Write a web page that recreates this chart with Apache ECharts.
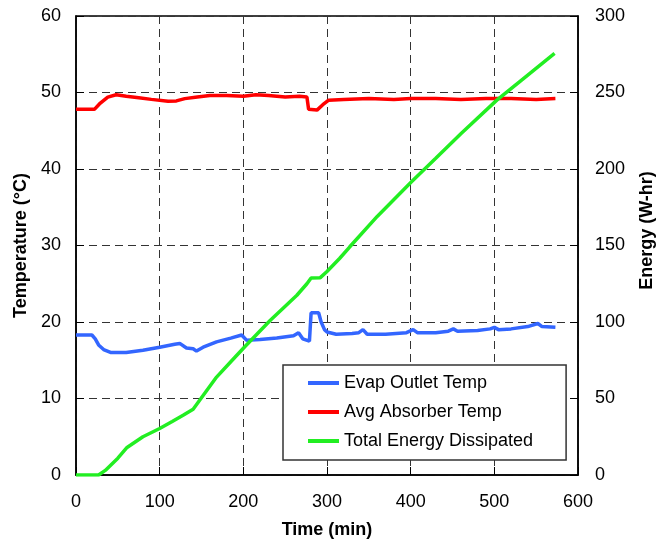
<!DOCTYPE html>
<html style="height: 100%">
<head>
  <meta charset="utf-8">
  <title>Temperature and Energy</title>
</head>
<body style="height: 100%; margin: 0">
<div id="container" style="width: 663px; height: 542px;"></div>
<script type="text/javascript" src="https://cdn.jsdelivr.net/npm/echarts@6/dist/echarts.min.js"></script>
<script type="text/javascript">
  // time (min) and values
  var evapTime = [0, 19, 23, 27, 33, 42, 60, 80, 100, 118, 124, 132, 140, 144, 152, 168, 185, 198, 204, 220, 240, 260, 266, 271, 279, 281, 290, 293, 297, 300, 311, 330, 338, 343, 348, 370, 395, 403, 408, 430, 445, 451, 456, 480, 495, 500, 505, 520, 540, 552, 557, 573];
  var evapTemp = [18.3, 18.3, 17.8, 17.0, 16.4, 16.0, 16.0, 16.3, 16.7, 17.1, 17.2, 16.6, 16.5, 16.2, 16.7, 17.4, 17.9, 18.3, 17.6, 17.7, 17.9, 18.2, 18.6, 17.8, 17.5, 21.2, 21.2, 20.0, 19.0, 18.7, 18.4, 18.5, 18.6, 19.0, 18.4, 18.4, 18.6, 19.0, 18.6, 18.6, 18.8, 19.1, 18.8, 18.9, 19.1, 19.3, 19.0, 19.1, 19.4, 19.8, 19.4, 19.3];

  var absTime = [0, 22, 28, 38, 48, 60, 75, 90, 110, 120, 130, 145, 160, 180, 200, 215, 230, 250, 267, 276, 278, 288, 295, 302, 320, 350, 380, 400, 430, 460, 490, 520, 550, 573];
  var absTemp = [47.8, 47.8, 48.5, 49.4, 49.7, 49.5, 49.3, 49.1, 48.85, 48.9, 49.2, 49.4, 49.6, 49.6, 49.5, 49.7, 49.6, 49.4, 49.5, 49.4, 47.8, 47.7, 48.4, 49.0, 49.1, 49.2, 49.1, 49.2, 49.2, 49.1, 49.2, 49.2, 49.1, 49.2];

  var energyTime = [0, 27, 35, 50, 61, 80, 100, 115, 128, 140, 148, 168, 185, 202, 232, 264, 276, 281, 292, 300, 315, 327, 360, 401, 430, 460, 503, 530, 572];
  var energyVal = [0, 0, 3, 11, 18, 25, 30.4, 35, 39, 43, 49, 64, 74, 84, 101, 117.5, 125, 128.8, 129, 133, 141.5, 149, 169, 191.6, 207, 223, 245, 257, 275.5];

  var seriesNames = ['Evap Outlet Temp', 'Avg Absorber Temp', 'Total Energy Dissipated'];

  function pairs(xs, ys) {
    var out = [];
    for (var i = 0; i < xs.length; i++) out.push([xs[i], ys[i]]);
    return out;
  }

  var font = 'Liberation Sans, Arial, sans-serif';
  var myChart = echarts.init(document.getElementById('container'));

  var option = {
    animation: false,
    textStyle: { fontFamily: font },
    grid: {
      left: 76, right: 85, top: 16, bottom: 67,
      outerBoundsMode: 'none',
      show: true, borderColor: '#000', borderWidth: 1.5
    },
    legend: {
      data: seriesNames,
      orient: 'vertical',
      left: 283, top: 365,
      padding: [9, 33, 10, 25],
      itemGap: 11,
      itemWidth: 31, itemHeight: 4,
      itemTextGap: 4,
      icon: 'rect',
      backgroundColor: '#fff',
      borderColor: '#333', borderWidth: 1.5,
      textStyle: { fontSize: 18, color: '#000', fontFamily: font }
    },
    xAxis: {
      type: 'value',
      min: 0, max: 600, interval: 100,
      name: 'Time (min)',
      nameLocation: 'middle',
      nameGap: 46,
      nameTextStyle: { fontSize: 18, fontWeight: 'bold', color: '#000' },
      axisLine: { lineStyle: { color: '#000', width: 1.5 } },
      axisTick: { inside: true, length: 8, lineStyle: { color: '#000' } },
      axisLabel: { fontSize: 18, color: '#000', margin: 18 },
      splitLine: { show: true, lineStyle: { color: '#333', type: [8, 5], width: 1 } }
    },
    yAxis: [
      {
        type: 'value',
        min: 0, max: 60, interval: 10,
        name: 'Temperature (°C)',
        nameLocation: 'middle',
        nameRotate: 90,
        nameGap: 45,
        nameTextStyle: { fontSize: 18, fontWeight: 'bold', color: '#000' },
        axisLine: { show: true, lineStyle: { color: '#000', width: 1.5 } },
        axisTick: { show: true, inside: true, length: 8, lineStyle: { color: '#000' } },
        axisLabel: { fontSize: 18, color: '#000', margin: 15 },
        splitLine: { show: true, lineStyle: { color: '#333', type: [8, 5], width: 1 } }
      },
      {
        type: 'value',
        min: 0, max: 300, interval: 50,
        name: 'Energy (W-hr)',
        nameLocation: 'middle',
        nameRotate: 90,
        nameGap: 60,
        nameTextStyle: { fontSize: 18, fontWeight: 'bold', color: '#000', padding: [0, 0, 0, 30] },
        axisLine: { show: true, lineStyle: { color: '#000', width: 1.5 } },
        axisTick: { show: true, inside: true, length: 8, lineStyle: { color: '#000' } },
        axisLabel: { fontSize: 18, color: '#000', margin: 17 },
        splitLine: { show: false }
      }
    ],
    series: [
      {
        name: seriesNames[0],
        type: 'line',
        yAxisIndex: 0,
        showSymbol: false,
        itemStyle: { color: '#3366ff' },
        lineStyle: { color: '#3366ff', width: 3.5 },
        data: pairs(evapTime, evapTemp)
      },
      {
        name: seriesNames[1],
        type: 'line',
        yAxisIndex: 0,
        showSymbol: false,
        itemStyle: { color: '#ff0000' },
        lineStyle: { color: '#ff0000', width: 3.5 },
        data: pairs(absTime, absTemp)
      },
      {
        name: seriesNames[2],
        type: 'line',
        yAxisIndex: 1,
        showSymbol: false,
        itemStyle: { color: '#22ee22' },
        lineStyle: { color: '#22ee22', width: 3.5 },
        data: pairs(energyTime, energyVal)
      }
    ]
  };

  if (option && typeof option === "object") {
    myChart.setOption(option, true);
  }
</script>
</body>
</html>
